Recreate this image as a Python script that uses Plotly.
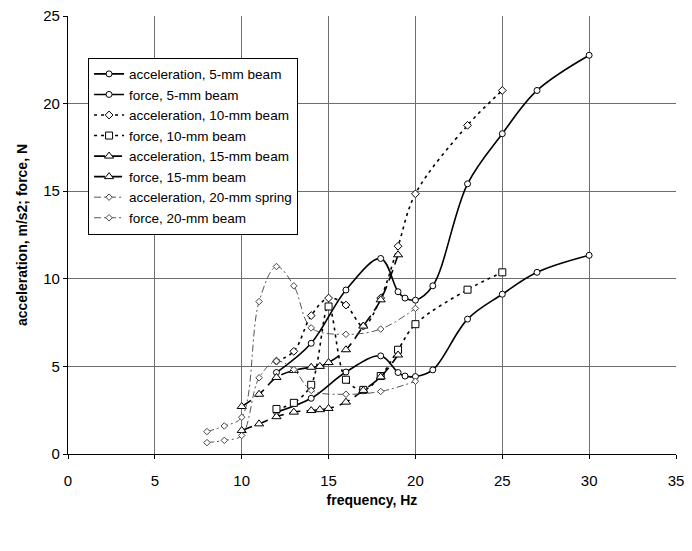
import plotly.graph_objects as go

# ---- data ----
f_5mm = [12, 14, 16, 18, 19, 19.4, 20, 21, 23, 25, 27, 30]
acc_5mm = [4.65, 6.32, 9.36, 11.16, 9.26, 8.9, 8.78, 9.6, 15.42, 18.28, 20.75, 22.76]
force_5mm = [2.39, 3.18, 4.68, 5.6, 4.65, 4.45, 4.42, 4.8, 7.7, 9.12, 10.37, 11.34]

f_10mm = [12, 13, 14, 15, 16, 17, 18, 19, 20, 23, 25]
acc_10mm = [5.3, 5.86, 7.9, 8.9, 8.5, 7.3, 8.9, 11.86, 14.85, 18.76, 20.75]
force_10mm = [2.57, 2.92, 3.95, 8.42, 4.24, 3.66, 4.45, 5.95, 7.41, 9.38, 10.37]

f_15mm = [10, 11, 12, 13, 14, 14.5, 15, 16, 17, 18, 19]
acc_15mm = [2.71, 3.41, 4.37, 4.77, 4.95, 5.0, 5.22, 5.95, 7.3, 8.8, 11.37]
force_15mm = [1.34, 1.72, 2.13, 2.39, 2.48, 2.53, 2.6, 2.96, 3.63, 4.4, 5.65]

f_20mm = [8, 9, 10, 11, 12, 13, 14, 16, 18, 20]
acc_20mm = [1.28, 1.6, 2.1, 8.7, 10.7, 9.6, 7.2, 6.83, 7.13, 8.31]
force_20mm = [0.65, 0.78, 1.06, 4.35, 5.3, 4.82, 3.63, 3.41, 3.57, 4.15]

x_ticks = [0, 5, 10, 15, 20, 25, 30, 35]
y_ticks = [0, 5, 10, 15, 20, 25]

names = ["acceleration, 5-mm beam", "force, 5-mm beam",
         "acceleration, 10-mm beam", "force, 10-mm beam",
         "acceleration, 15-mm beam", "force, 15-mm beam",
         "acceleration, 20-mm spring", "force, 20-mm beam"]

series = [
    (f_5mm, acc_5mm, dict(color="black", width=1.6, dash="solid"), "circle", 6),
    (f_5mm, force_5mm, dict(color="black", width=1.6, dash="solid"), "circle", 6),
    (f_10mm, acc_10mm, dict(color="black", width=1.6, dash="3px,4px"), "diamond", 6),
    (f_10mm, force_10mm, dict(color="black", width=1.6, dash="3px,4px"), "square", 7),
    (f_15mm, acc_15mm, dict(color="black", width=1.6, dash="11px,6px"), "triangle-up", 8),
    (f_15mm, force_15mm, dict(color="black", width=1.6, dash="11px,6px"), "triangle-up", 8),
    (f_20mm, acc_20mm, dict(color="#444444", width=0.9, dash="7px,3px,2px,3px"), "diamond", 5),
    (f_20mm, force_20mm, dict(color="#444444", width=0.9, dash="7px,3px,2px,3px"), "diamond", 5),
]

fig = go.Figure()
for name, (xs, ys, line, sym, sz) in zip(names, series):
    fig.add_trace(go.Scatter(
        x=xs, y=ys, name=name, mode="lines+markers",
        line=dict(shape="spline", smoothing=1, **line),
        marker=dict(symbol=sym, size=sz, color="white",
                    line=dict(color=line["color"], width=1)),
    ))

font_family = "Liberation Sans, Arial, sans-serif"
fig.update_layout(
    width=684, height=520,
    margin=dict(l=60, r=16, t=8, b=74),
    paper_bgcolor="white", plot_bgcolor="white",
    font=dict(family=font_family, color="black", size=14),
    showlegend=True,
    legend=dict(x=0.033, y=0.905, xanchor="left", yanchor="top",
                bgcolor="white", bordercolor="black", borderwidth=1,
                font=dict(size=13.5, family=font_family), itemwidth=30,
                tracegroupgap=0),
    xaxis=dict(range=[0, 35], tickvals=x_ticks, ticktext=[str(v) for v in x_ticks],
               showgrid=True, gridcolor="#6e6e6e", gridwidth=1,
               showline=True, linecolor="black", linewidth=1.2,
               ticks="outside", ticklen=4, tickcolor="black",
               ticklabelstandoff=9, ticklabeloverflow="allow", automargin=False,
               zeroline=False, tickfont=dict(size=15),
               title=dict(text="<b>frequency, Hz</b>", font=dict(size=14), standoff=7)),
    yaxis=dict(range=[0, 25], tickvals=y_ticks, ticktext=[str(v) for v in y_ticks],
               showgrid=True, gridcolor="#6e6e6e", gridwidth=1,
               showline=True, linecolor="black", linewidth=1.2,
               ticks="outside", ticklen=4, tickcolor="black",
               ticklabeloverflow="allow", automargin=False,
               zeroline=False, tickfont=dict(size=15),
               title=dict(text="<b>acceleration, m/s2; force, N</b>", font=dict(size=14), standoff=12)),
)

fig.write_html("out.html")
